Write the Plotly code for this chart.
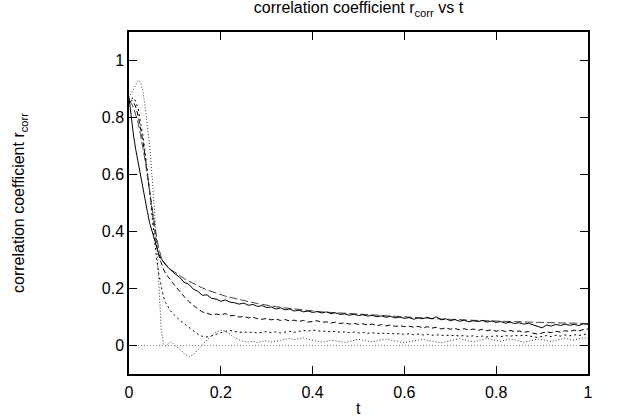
import plotly.graph_objects as go

t = [0.0, 0.005, 0.01, 0.015, 0.02, 0.025, 0.03, 0.035, 0.04, 0.045,
     0.05, 0.055, 0.06, 0.065, 0.07, 0.075, 0.08, 0.085, 0.09, 0.095, 0.1,
     0.11, 0.12, 0.13, 0.14, 0.15, 0.16, 0.17, 0.18, 0.19, 0.2,
     0.21, 0.22, 0.23, 0.24, 0.25, 0.26, 0.27, 0.28, 0.29, 0.3,
     0.31, 0.32, 0.33, 0.34, 0.35, 0.36, 0.37, 0.38, 0.39, 0.4,
     0.41, 0.42, 0.43, 0.44, 0.45, 0.46, 0.47, 0.48, 0.49, 0.5,
     0.51, 0.52, 0.53, 0.54, 0.55, 0.56, 0.57, 0.58, 0.59, 0.6,
     0.61, 0.62, 0.63, 0.64, 0.65, 0.66, 0.67, 0.68, 0.69, 0.7,
     0.71, 0.72, 0.73, 0.74, 0.75, 0.76, 0.77, 0.78, 0.79, 0.8,
     0.81, 0.82, 0.83, 0.84, 0.85, 0.86, 0.87, 0.88, 0.89, 0.9,
     0.91, 0.92, 0.93, 0.94, 0.95, 0.96, 0.97, 0.98, 0.99, 1.0]

r_solid = [0.87, 0.79, 0.735, 0.685, 0.64, 0.595, 0.55, 0.51, 0.47, 0.43,
           0.40, 0.37, 0.345, 0.32, 0.305, 0.293, 0.282, 0.274, 0.266, 0.26, 0.252,
           0.24, 0.222, 0.215, 0.198, 0.19, 0.176, 0.178, 0.165, 0.163, 0.155,
           0.160, 0.152, 0.150, 0.145, 0.149, 0.141, 0.144, 0.137, 0.140, 0.133,
           0.135, 0.128, 0.132, 0.125, 0.128, 0.121, 0.124, 0.118, 0.121, 0.116,
           0.119, 0.114, 0.118, 0.112, 0.115, 0.109, 0.111, 0.106, 0.110, 0.105,
           0.108, 0.103, 0.106, 0.101, 0.104, 0.099, 0.102, 0.097, 0.100, 0.095,
           0.098, 0.092, 0.097, 0.094, 0.099, 0.093, 0.101, 0.090, 0.094, 0.087,
           0.091, 0.085, 0.089, 0.083, 0.087, 0.084, 0.088, 0.082, 0.086, 0.081,
           0.084, 0.078, 0.082, 0.077, 0.080, 0.075, 0.078, 0.072, 0.066, 0.062,
           0.072, 0.068, 0.074, 0.070, 0.075, 0.071, 0.074, 0.070, 0.076, 0.074]

r_longdash = [0.86, 0.85, 0.835, 0.81, 0.78, 0.74, 0.70, 0.65, 0.595, 0.54,
              0.485, 0.43, 0.38, 0.34, 0.312, 0.295, 0.283, 0.275, 0.268, 0.262, 0.256,
              0.245, 0.235, 0.226, 0.217, 0.209, 0.202, 0.195, 0.189, 0.183, 0.178,
              0.173, 0.169, 0.165, 0.161, 0.157, 0.153, 0.150, 0.147, 0.144, 0.141,
              0.138, 0.136, 0.134, 0.132, 0.130, 0.128, 0.126, 0.124, 0.122, 0.121,
              0.119, 0.118, 0.117, 0.116, 0.114, 0.113, 0.112, 0.111, 0.110, 0.109,
              0.108, 0.107, 0.106, 0.105, 0.104, 0.103, 0.102, 0.101, 0.100, 0.099,
              0.098, 0.097, 0.097, 0.096, 0.095, 0.094, 0.094, 0.093, 0.092, 0.092,
              0.091, 0.090, 0.090, 0.089, 0.088, 0.088, 0.087, 0.087, 0.086, 0.086,
              0.085, 0.085, 0.084, 0.084, 0.083, 0.083, 0.082, 0.082, 0.081, 0.081,
              0.080, 0.080, 0.080, 0.079, 0.079, 0.079, 0.078, 0.078, 0.078, 0.077]

r_dash = [0.85, 0.86, 0.855, 0.835, 0.805, 0.765, 0.72, 0.665, 0.605, 0.54,
          0.475, 0.41, 0.355, 0.315, 0.288, 0.268, 0.252, 0.24, 0.23, 0.22, 0.21,
          0.19, 0.172, 0.155, 0.14, 0.128, 0.118, 0.112, 0.108, 0.11, 0.107,
          0.112, 0.104, 0.106, 0.100, 0.102, 0.097, 0.099, 0.094, 0.092, 0.095,
          0.090, 0.093, 0.088, 0.091, 0.086, 0.089, 0.084, 0.088, 0.082, 0.085,
          0.087, 0.081, 0.083, 0.079, 0.082, 0.077, 0.080, 0.075, 0.078, 0.074,
          0.076, 0.072, 0.075, 0.070, 0.073, 0.069, 0.072, 0.067, 0.070, 0.066,
          0.068, 0.064, 0.067, 0.062, 0.066, 0.061, 0.064, 0.058, 0.062, 0.057,
          0.060, 0.055, 0.059, 0.054, 0.058, 0.053, 0.057, 0.052, 0.055, 0.050,
          0.054, 0.049, 0.053, 0.048, 0.051, 0.046, 0.049, 0.043, 0.040, 0.044,
          0.048, 0.045, 0.050, 0.047, 0.052, 0.049, 0.054, 0.051, 0.056, 0.058]

r_shortdash = [0.85, 0.865, 0.87, 0.855, 0.83, 0.79, 0.74, 0.68, 0.615, 0.54,
               0.455, 0.375, 0.305, 0.25, 0.205, 0.172, 0.15, 0.135, 0.123, 0.113, 0.105,
               0.09, 0.077, 0.064, 0.052, 0.04, 0.032, 0.03, 0.034, 0.04, 0.046,
               0.05, 0.053, 0.05, 0.046, 0.048, 0.045, 0.047, 0.044, 0.046, 0.049,
               0.045, 0.048, 0.044, 0.047, 0.050, 0.046, 0.049, 0.053, 0.050, 0.054,
               0.052, 0.049, 0.051, 0.047, 0.050, 0.046, 0.048, 0.045, 0.047, 0.044,
               0.046, 0.043, 0.045, 0.042, 0.044, 0.041, 0.043, 0.040, 0.042, 0.039,
               0.041, 0.038, 0.040, 0.037, 0.039, 0.036, 0.038, 0.035, 0.037, 0.034,
               0.036, 0.033, 0.035, 0.032, 0.034, 0.031, 0.033, 0.030, 0.032, 0.034,
               0.031, 0.035, 0.032, 0.036, 0.033, 0.037, 0.034, 0.031, 0.028, 0.032,
               0.035, 0.031, 0.036, 0.033, 0.037, 0.034, 0.038, 0.035, 0.039, 0.041]

r_dot = [0.87, 0.885, 0.905, 0.92, 0.93, 0.925, 0.895, 0.84, 0.775, 0.70,
         0.60, 0.49, 0.37, 0.22, 0.06, 0.005, -0.002, 0.006, 0.012, 0.008, 0.0,
         -0.012, -0.028, -0.038, -0.033, -0.015, 0.003, 0.02, 0.035, 0.047, 0.053,
         0.05, 0.04, 0.028, 0.02, 0.014, 0.012, 0.015, 0.011, 0.013, 0.017,
         0.012, 0.014, 0.018, 0.022, 0.025, 0.02, 0.024, 0.027, 0.022, 0.018,
         0.015, 0.012, 0.014, 0.018, 0.016, 0.013, 0.011, 0.014, 0.019, 0.022,
         0.018, 0.015, 0.013, 0.016, 0.02, 0.023, 0.019, 0.016, 0.012, 0.01,
         0.013, 0.016, 0.019, 0.022, 0.018, 0.015, 0.012, 0.01, 0.013, 0.017,
         0.02, 0.024, 0.02, 0.016, 0.013, 0.017, 0.021, 0.025, 0.021, 0.018,
         0.015, 0.019, 0.023, 0.02, 0.016, 0.012, 0.015, 0.019, 0.023, 0.02,
         0.017, 0.014, 0.018, 0.022, 0.026, 0.022, 0.019, 0.023, 0.027, 0.025]

zero_x = [0.0, 1.0]
zero_y = [0.0, 0.0]

x_ticks = [0, 0.2, 0.4, 0.6, 0.8, 1]
x_tick_labels = ["0", "0.2", "0.4", "0.6", "0.8", "1"]
y_ticks = [0, 0.2, 0.4, 0.6, 0.8, 1]
y_tick_labels = ["0", "0.2", "0.4", "0.6", "0.8", "1"]

FONT = "Liberation Sans, Arial, sans-serif"

fig = go.Figure()
fig.add_trace(go.Scatter(x=zero_x, y=zero_y, mode="lines",
                         line=dict(color="#888888", width=1, dash="1px,2px")))
fig.add_trace(go.Scatter(x=t, y=r_dot, mode="lines",
                         line=dict(color="#333333", width=1, dash="1px,2px")))
fig.add_trace(go.Scatter(x=t, y=r_shortdash, mode="lines",
                         line=dict(color="black", width=1, dash="2px,3px")))
fig.add_trace(go.Scatter(x=t, y=r_dash, mode="lines",
                         line=dict(color="black", width=1, dash="5px,3px")))
fig.add_trace(go.Scatter(x=t, y=r_longdash, mode="lines",
                         line=dict(color="#444444", width=1, dash="8px,3px")))
fig.add_trace(go.Scatter(x=t, y=r_solid, mode="lines",
                         line=dict(color="black", width=1)))

axis_common = dict(showline=True, linecolor="black", linewidth=1.5, mirror="ticks",
                   ticks="inside", ticklen=8, tickwidth=1, tickcolor="black",
                   showgrid=False, zeroline=False,
                   tickfont=dict(family=FONT, size=16, color="black"))

fig.update_layout(
    width=630, height=419,
    margin=dict(l=129, r=42, t=32, b=45),
    paper_bgcolor="white", plot_bgcolor="white",
    showlegend=False,
    title=dict(text="correlation coefficient r<sub>corr</sub> vs t",
               font=dict(family=FONT, size=16, color="black"),
               x=0.5, xref="paper", xanchor="center",
               y=0.995, yref="container", yanchor="top"),
    xaxis=dict(range=[0, 1], tickvals=x_ticks, ticktext=x_tick_labels,
               ticklabelstandoff=3, **axis_common),
    yaxis=dict(range=[-0.1, 1.1], tickvals=y_ticks, ticktext=y_tick_labels,
               title=dict(text="correlation coefficient r<sub>corr</sub>",
                          font=dict(family=FONT, size=16, color="black"), standoff=73),
               **axis_common),
    annotations=[dict(text="t", x=0.5, xref="paper", y=-0.1, yref="paper",
                      xanchor="center", yanchor="middle", showarrow=False,
                      font=dict(family=FONT, size=16, color="black"))],
)

fig.write_html("out.html")
